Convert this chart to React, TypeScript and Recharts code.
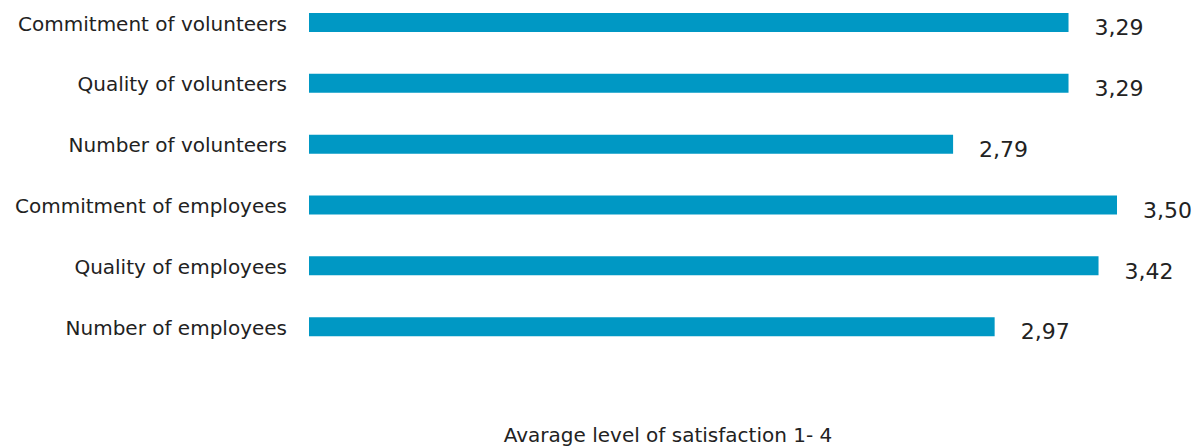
import { BarChart, Bar, XAxis, YAxis, LabelList } from 'recharts';

const categories = [
  'Commitment of volunteers',
  'Quality of volunteers',
  'Number of volunteers',
  'Commitment of employees',
  'Quality of employees',
  'Number of employees',
];
const satisfaction = [3.29, 3.29, 2.79, 3.5, 3.42, 2.97];
const xDomain = [0, 3.5];
const xTitle = 'Avarage level of satisfaction 1- 4';

const data = categories.map((name, i) => ({ name, value: satisfaction[i] }));

const FONT = '"DejaVu Sans", sans-serif';
const TEXT = '#222222';
const BAR = '#0098c4';

export default function App() {
  return (
    <div style={{ position: 'absolute', left: 0, top: -8, width: 1195, height: 456, overflow: 'hidden', background: '#fff' }}>
      <BarChart
        width={1195}
        height={480}
        data={data}
        layout="vertical"
        margin={{ top: 0, right: 78, bottom: 0, left: 0 }}
      >
        <XAxis
          type="number"
          domain={xDomain}
          tick={false}
          axisLine={false}
          tickLine={false}
          height={115}
          label={{
            content: () => (
              <text x={668} y={450} textAnchor="middle" fontSize={20} fontFamily={FONT} fill={TEXT}>
                {xTitle}
              </text>
            ),
          }}
        />
        <YAxis
          type="category"
          dataKey="name"
          width={309}
          axisLine={false}
          tickLine={false}
          tickSize={0}
          tickMargin={22}
          interval={0}
          tick={{ fontSize: 20, fontFamily: FONT, fill: TEXT, dy: 1 }}
        />
        <Bar dataKey="value" fill={BAR} barSize={19} isAnimationActive={false}>
          <LabelList
            dataKey="value"
            position="right"
            offset={26}
            dy={5}
            formatter={(v: any) => Number(v).toFixed(2).replace('.', ',')}
            style={{ fontSize: 22, fontFamily: FONT, fill: TEXT }}
          />
        </Bar>
      </BarChart>
    </div>
  );
}
